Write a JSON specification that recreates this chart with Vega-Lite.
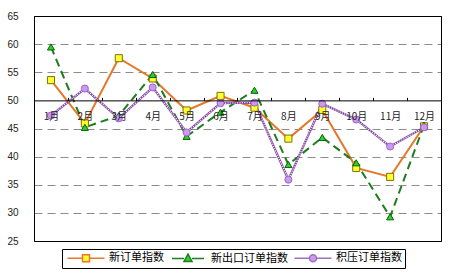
{
  "$schema": "https://vega.github.io/schema/vega-lite/v6.json",
  "width": 407,
  "height": 225,
  "autosize": {"type": "none"},
  "padding": {"left": 34, "top": 16, "right": 13, "bottom": 32},
  "background": "white",
  "config": {
    "view": {"stroke": "black", "strokeWidth": 1},
    "font": "Liberation Sans",
    "legend": {
      "title": null,
      "orient": "none",
      "direction": "horizontal",
      "legendX": 28,
      "legendY": 233,
      "strokeColor": "black",
      "fillColor": "white",
      "padding": 3,
      "columnPadding": 3,
      "symbolSize": 100,
      "symbolOffset": 15,
      "symbolStrokeWidth": 1.5,
      "labelFont": "Noto Sans CJK SC",
      "labelFontSize": 11,
      "labelColor": "black",
      "labelOffset": 17
    }
  },
  "data": {
    "values": [
      {"month": "1月", "series": "新订单指数", "value": 53.6},
      {"month": "2月", "series": "新订单指数", "value": 45.9},
      {"month": "3月", "series": "新订单指数", "value": 57.5},
      {"month": "4月", "series": "新订单指数", "value": 53.9},
      {"month": "5月", "series": "新订单指数", "value": 48.2},
      {"month": "6月", "series": "新订单指数", "value": 50.8},
      {"month": "7月", "series": "新订单指数", "value": 48.7},
      {"month": "8月", "series": "新订单指数", "value": 43.2},
      {"month": "9月", "series": "新订单指数", "value": 48.3},
      {"month": "10月", "series": "新订单指数", "value": 38.0},
      {"month": "11月", "series": "新订单指数", "value": 36.4},
      {"month": "12月", "series": "新订单指数", "value": 45.4},
      {"month": "1月", "series": "新出口订单指数", "value": 59.5},
      {"month": "2月", "series": "新出口订单指数", "value": 45.2},
      {"month": "3月", "series": "新出口订单指数", "value": 47.3},
      {"month": "4月", "series": "新出口订单指数", "value": 54.6},
      {"month": "5月", "series": "新出口订单指数", "value": 43.6},
      {"month": "6月", "series": "新出口订单指数", "value": 47.9},
      {"month": "7月", "series": "新出口订单指数", "value": 51.8},
      {"month": "8月", "series": "新出口订单指数", "value": 38.6},
      {"month": "9月", "series": "新出口订单指数", "value": 43.4},
      {"month": "10月", "series": "新出口订单指数", "value": 38.9},
      {"month": "11月", "series": "新出口订单指数", "value": 29.3},
      {"month": "12月", "series": "新出口订单指数", "value": 45.6},
      {"month": "1月", "series": "积压订单指数", "value": 47.3},
      {"month": "2月", "series": "积压订单指数", "value": 52.1},
      {"month": "3月", "series": "积压订单指数", "value": 46.8},
      {"month": "4月", "series": "积压订单指数", "value": 52.3},
      {"month": "5月", "series": "积压订单指数", "value": 44.3},
      {"month": "6月", "series": "积压订单指数", "value": 49.5},
      {"month": "7月", "series": "积压订单指数", "value": 49.6},
      {"month": "8月", "series": "积压订单指数", "value": 35.9},
      {"month": "9月", "series": "积压订单指数", "value": 49.4},
      {"month": "10月", "series": "积压订单指数", "value": 46.6},
      {"month": "11月", "series": "积压订单指数", "value": 41.8},
      {"month": "12月", "series": "积压订单指数", "value": 45.2}
    ]
  },
  "encoding": {
    "x": {
      "field": "month",
      "type": "nominal",
      "sort": null,
      "scale": {"type": "band", "paddingInner": 0, "paddingOuter": 0},
      "axis": {
        "title": null,
        "orient": "bottom",
        "offset": -140.625,
        "domainColor": "black",
        "domainWidth": 1,
        "tickColor": "black",
        "tickBand": "extent",
        "tickSize": -3,
        "labelPadding": 14,
        "labelAngle": 0,
        "labelFont": "Noto Sans CJK SC",
        "labelFontSize": 10,
        "labelColor": "#222222",
        "zindex": 1
      }
    }
  },
  "layer": [
    {
      "encoding": {
        "y": {
          "field": "value",
          "type": "quantitative",
          "scale": {"domain": [25, 65], "nice": false, "zero": false},
          "axis": {
            "title": null,
            "orient": "left",
            "values": [25, 30, 35, 40, 45, 50, 55, 60, 65],
            "domain": true,
            "domainColor": "black",
            "domainWidth": 1,
            "ticks": false,
            "labelPadding": 16,
            "labelFont": "Liberation Sans",
            "labelFontSize": 10,
            "labelColor": "#222222",
            "grid": true,
            "gridColor": {"condition": {"test": "datum.value === 25 || datum.value === 65", "value": "black"}, "value": "#8c8c8c"},
            "gridDash": {"condition": {"test": "datum.value === 25 || datum.value === 65", "value": []}, "value": [8, 5]},
            "gridWidth": 1,
            "gridOpacity": {"condition": {"test": "datum.value === 50", "value": 0}, "value": 1}
          }
        }
      },
      "layer": [
        {
          "transform": [{"filter": "datum.series === '新订单指数'"}],
          "mark": {"type": "line", "stroke": "#E5782A", "strokeWidth": 2}
        },
        {
          "transform": [{"filter": "datum.series === '新出口订单指数'"}],
          "mark": {"type": "line", "stroke": "#1E7B1E", "strokeWidth": 2, "strokeDash": [8, 5]}
        },
        {
          "transform": [{"filter": "datum.series === '积压订单指数'"}],
          "mark": {"type": "line", "stroke": "#8040A0", "strokeWidth": 2.2}
        },
        {
          "transform": [{"filter": "datum.series === '积压订单指数'"}],
          "mark": {"type": "line", "stroke": "white", "strokeWidth": 1.1, "strokeDash": [1.2, 1.2]}
        },
        {
          "mark": {"type": "point", "filled": false, "size": 50, "strokeWidth": 1, "opacity": 1},
          "encoding": {
            "shape": {
              "field": "series",
              "type": "nominal",
              "scale": {"domain": ["新订单指数", "新出口订单指数", "积压订单指数"], "range": ["square", "triangle-up", "circle"]},
              "legend": null
            },
            "fill": {
              "field": "series",
              "type": "nominal",
              "scale": {"domain": ["新订单指数", "新出口订单指数", "积压订单指数"], "range": ["#FFFF33", "#33CC33", "#CC99EE"]},
              "legend": null
            },
            "stroke": {
              "field": "series",
              "type": "nominal",
              "scale": {"domain": ["新订单指数", "新出口订单指数", "积压订单指数"], "range": ["#807000", "#006600", "#9966CC"]},
              "legend": null
            }
          }
        }
      ]
    },
    {
      "transform": [{"filter": "false"}],
      "mark": {"type": "point", "filled": false, "size": 100, "strokeWidth": 1.5, "opacity": 1},
      "encoding": {
        "y": {
          "field": "value",
          "type": "quantitative",
          "scale": {"domain": [25, 65], "nice": false, "zero": false},
          "axis": {"title": null, "orient": "right", "labels": false, "ticks": false, "grid": false, "domain": true, "domainColor": "black", "domainWidth": 1}
        },
        "shape": {
          "field": "series",
          "type": "nominal",
          "scale": {"domain": ["新订单指数", "新出口订单指数", "积压订单指数"], "range": [
            "M-3.7,0H-0.7M0.7,0H3.7M-0.7,-0.7H0.7V0.7H-0.7Z",
            "M-3.2,0H-0.8M0.8,0H3.2M0,-0.9L0.8,0.6L-0.8,0.6Z",
            "M-3.7,0H-0.7M0.7,0H3.7M0.7,0A0.7,0.7,0,1,1,-0.7,0A0.7,0.7,0,1,1,0.7,0Z"
          ]}
        },
        "fill": {
          "field": "series",
          "type": "nominal",
          "scale": {"domain": ["新订单指数", "新出口订单指数", "积压订单指数"], "range": ["#FFFF33", "#33CC33", "#CC99EE"]}
        },
        "stroke": {
          "field": "series",
          "type": "nominal",
          "scale": {"domain": ["新订单指数", "新出口订单指数", "积压订单指数"], "range": ["#E5782A", "#1E7B1E", "#A070C0"]}
        }
      }
    }
  ],
  "resolve": {
    "scale": {"shape": "independent", "fill": "independent", "stroke": "independent"},
    "axis": {"y": "independent"}
  }
}
